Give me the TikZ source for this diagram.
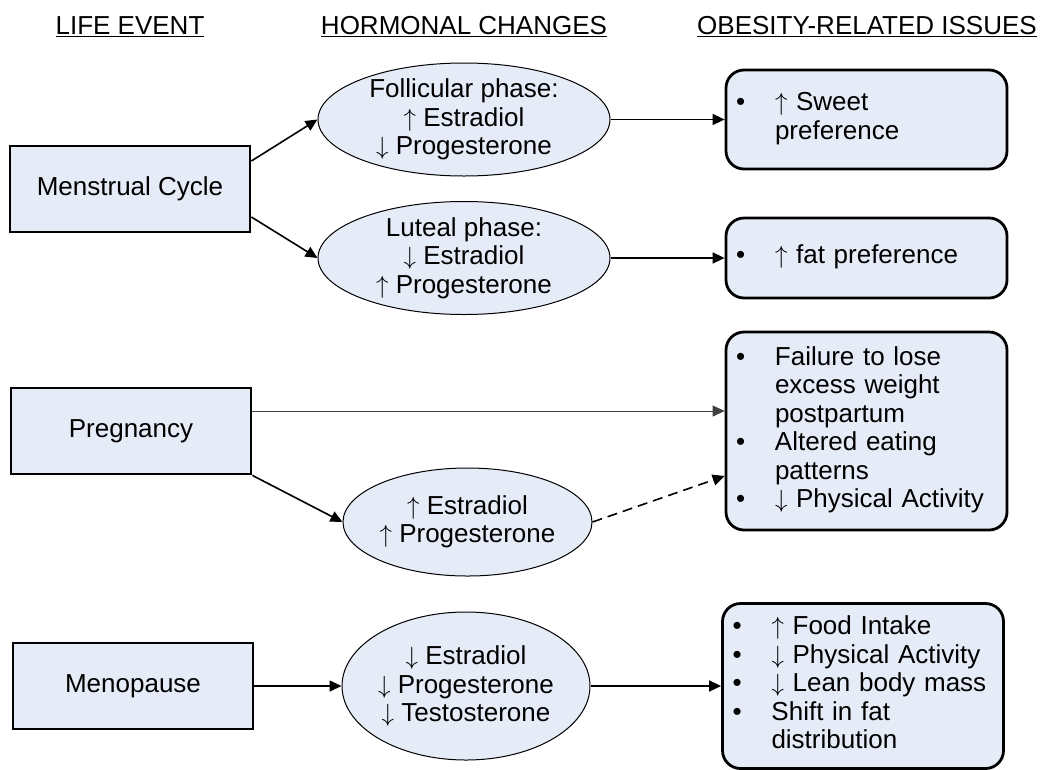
\documentclass[tikz,border=0pt]{standalone}
\usepackage{fontspec}
\setmainfont{Liberation Sans}
\usetikzlibrary{shapes.geometric,arrows.meta}
\definecolor{boxfill}{RGB}{229,235,247}
\newcommand\hup{$\uparrow$}
\newcommand\hdn{$\downarrow$}
\newcommand\isslist[1]{\begin{tabular}{@{}p{39pt}@{}l@{}}#1\end{tabular}}

\begin{document}
\begin{tikzpicture}[x=1pt,y=-1pt,
		font=\fontsize{26}{28.5}\selectfont,
		head/.style={inner sep=0pt},
		evt/.style={draw,line width=2.8pt,fill=boxfill,minimum width=240pt,minimum height=86pt},
		hor/.style={ellipse,draw,line width=1pt,fill=boxfill,inner sep=-2pt,align=center},
		iss/.style={draw,line width=2.8pt,rounded corners=18pt,fill=boxfill,text width=261pt,inner xsep=10pt,align=left},
		arr/.style={-{Triangle[length=12pt,width=11pt]},line width=1.6pt}]
		\useasboundingbox (0,0) rectangle (1046,769);
		% 标题
		\node[head] (hLife) at (130,27) {\underline{LIFE EVENT}};
		\node[head] (hHorm) at (464,27) {\underline{HORMONAL CHANGES}};
		\node[head] (hIss) at (867,27) {\underline{OBESITY-RELATED ISSUES}};
		% 事件
		\node[evt] (mc) at (130,189) {Menstrual Cycle};
		\node[evt] (preg) at (131,431) {Pregnancy};
		\node[evt] (meno) at (133,686) {Menopause};
		% 激素
		\node[hor,minimum width=292pt,minimum height=113pt] (foll) at (464,119.5) {Follicular phase:\\\hup\ Estradiol\\\hdn\ Progesterone};
		\node[hor,minimum width=292pt,minimum height=113pt] (lut) at (464,258) {Luteal phase:\\\hdn\ Estradiol\\\hup\ Progesterone};
		\node[hor,minimum width=249pt,minimum height=108pt] (pe) at (467.5,522) {\hup\ Estradiol\\\hup\ Progesterone};
		\node[hor,minimum width=248pt,minimum height=148pt] (me) at (466,686) {\hdn\ Estradiol\\\hdn\ Progesterone\\\hdn\ Testosterone};
		% 问题
		\node[iss,minimum height=99pt] (sw) at (866.5,119.5) {\isslist{\textbullet & \hup\ Sweet\\ & preference}};
		\node[iss,minimum height=80pt] (fat) at (866.5,258) {\isslist{\textbullet & \hup\ fat preference}};
		\node[iss,minimum height=198pt] (pi) at (866.5,431) {\isslist{\textbullet & Failure to lose\\ & excess weight\\ & postpartum\\
			\textbullet & Altered eating\\ & patterns\\ \textbullet & \hdn\ Physical Activity}};
		\node[iss,minimum height=165pt] (mi) at (863,686) {\isslist{\textbullet & \hup\ Food Intake\\ \textbullet & \hdn\ Physical Activity\\
			\textbullet & \hdn\ Lean body mass\\ \textbullet & Shift in fat\\ & distribution}};
		% 箭头
		\draw[arr] (mc.13) -- (foll.west);
		\draw[arr] (mc.-13) -- (lut.west);
		\draw[arr] (foll) -- (sw);
		\draw[arr] (lut) -- (fat);
		\draw[arr,line width=1pt,black!75] ([yshift=20pt]preg.east) -- ([yshift=20pt]pi.west);
		\draw[arr] (preg.south east) -- (pe.west);
		\draw[arr,dash pattern=on 10pt off 6pt] (pe.east) -- ([yshift=-45pt]pi.west);
		\draw[arr] (meno) -- (me);
		\draw[arr] (me) -- (mi);
	\end{tikzpicture}
\end{document}
